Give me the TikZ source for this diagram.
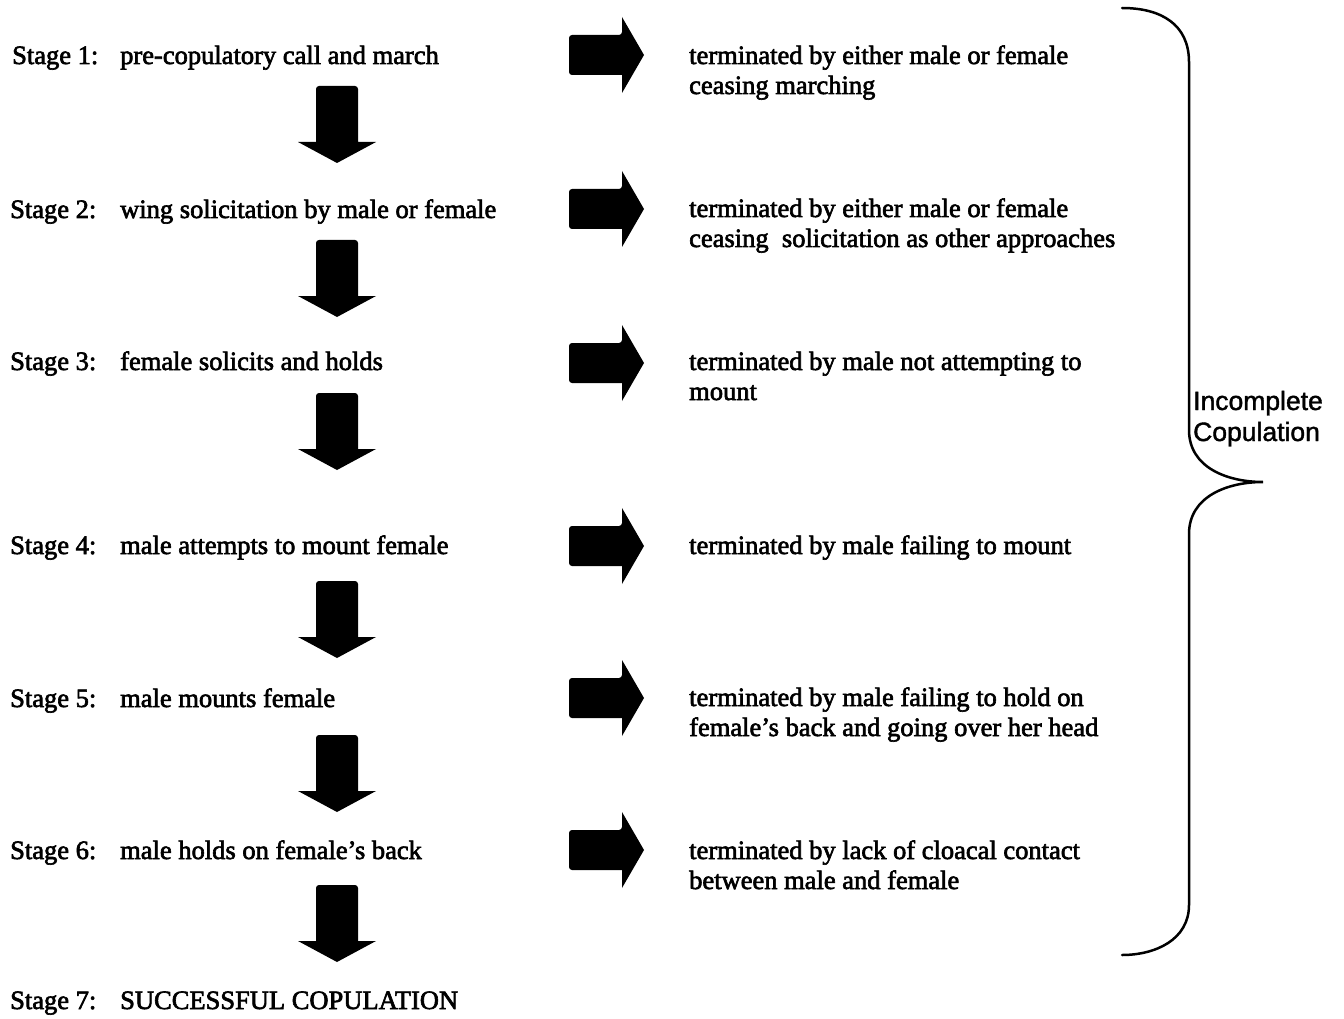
\documentclass[tikz,border=0pt]{standalone}
\usepackage{fontspec}
\setmainfont[FakeBold=2.4]{Liberation Serif}
\newfontfamily\bracefont[FakeBold=1.5]{Liberation Sans}
\begin{document}
\begin{tikzpicture}[x=1pt,y=-1pt]
\tikzset{
  txt/.style={anchor=base west, inner sep=0pt, font=\fontsize{26.5}{30}\selectfont},
  side/.style={anchor=base west, inner sep=0pt, font=\bracefont\fontsize{26.5}{31}\selectfont},
  rarrow/.pic={\fill (0,20) [rounded corners=3pt] -- (0,-20) -- (53,-20) [sharp corners] -- (53,-38) -- (75,0) -- (53,38) -- (53,20) [rounded corners=3pt] -- cycle;},
  darrow/.pic={\fill (-21,56) [rounded corners=3pt] -- (-21,0) -- (21,0) [sharp corners] -- (21,56) -- (39,56) -- (0,77) -- (-39,56) -- cycle;}
}
\useasboundingbox (0,0) rectangle (1344,1019);

% stage labels (baselines)
\node[txt] (s1) at (12,64) {Stage 1:};
\node[txt] (s2) at (10,218) {Stage 2:};
\node[txt] (s3) at (10,370) {Stage 3:};
\node[txt] (s4) at (10,554) {Stage 4:};
\node[txt] (s5) at (10,707) {Stage 5:};
\node[txt] (s6) at (10,859) {Stage 6:};
\node[txt] (s7) at (10,1009) {Stage 7:};

% descriptions
\node[txt] (d1) at (120,64) {pre-copulatory call and march};
\node[txt] (d2) at (120,218) {wing solicitation by male or female};
\node[txt] (d3) at (120,370) {female solicits and holds};
\node[txt] (d4) at (120,554) {male attempts to mount female};
\node[txt] (d5) at (120,707) {male mounts female};
\node[txt] (d6) at (120,859) {male holds on female's back};
\node[txt] (d7) at (120,1009) {SUCCESSFUL COPULATION};

% terminations
\node[txt] (t1a) at (689,64) {terminated by either male or female};
\node[txt] (t1b) at (689,94) {ceasing marching};
\node[txt] (t2a) at (689,217) {terminated by either male or female};
\node[txt] (t2b) at (689,247) {ceasing\ \ solicitation as other approaches};
\node[txt] (t3a) at (689,370) {terminated by male not attempting to};
\node[txt] (t3b) at (689,400) {mount};
\node[txt] (t4a) at (689,554) {terminated by male failing to mount};
\node[txt] (t5a) at (689,706) {terminated by male failing to hold on};
\node[txt] (t5b) at (689,736) {female's back and going over her head};
\node[txt] (t6a) at (689,859) {terminated by lack of cloacal contact};
\node[txt] (t6b) at (689,889) {between male and female};

% down arrows
\pic (da1) at (337,86) {darrow};
\pic (da2) at (337,240) {darrow};
\pic (da3) at (337,393) {darrow};
\pic (da4) at (337,581) {darrow};
\pic (da5) at (337,735) {darrow};
\pic (da6) at (337,885) {darrow};

% right arrows
\pic (ra1) at (569,55) {rarrow};
\pic (ra2) at (569,209) {rarrow};
\pic (ra3) at (569,363) {rarrow};
\pic (ra4) at (569,546) {rarrow};
\pic (ra5) at (569,698) {rarrow};
\pic (ra6) at (569,850) {rarrow};

% brace
\draw[line width=2.5pt, line cap=round]
  (1122,8) .. controls (1162,8) and (1189,25) .. (1189,62)
  -- (1189,430) .. controls (1189,468) and (1228,482) .. (1263,482)
  .. controls (1228,482) and (1189,496) .. (1189,534)
  -- (1189,905) .. controls (1189,940) and (1155,955) .. (1122,955);

\node[side] (ic1) at (1193,410) {Incomplete};
\node[side] (ic2) at (1193,441) {Copulation};
\end{tikzpicture}
\end{document}
